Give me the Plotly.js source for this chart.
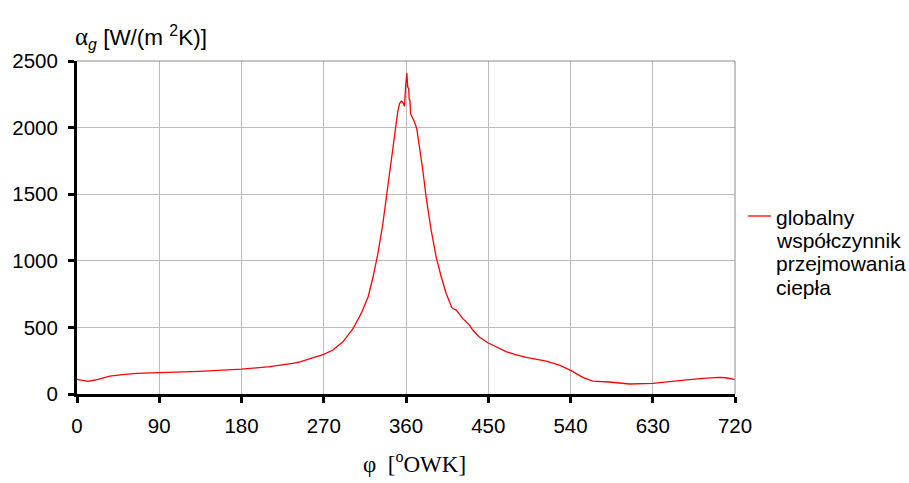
<!DOCTYPE html>
<html>
<head>
<meta charset="utf-8">
<script src="https://cdn.plot.ly/plotly-3.0.1.min.js"></script>
<style>html,body{margin:0;padding:0;background:#fff;}#chart{width:909px;height:483px;}</style>
</head>
<body>
<div id="chart"></div>
<script>
// crank angle [deg OWK]
const phi = [0, 5, 12, 20, 36, 50, 65, 90, 134, 180, 211, 236, 244, 270, 280, 291, 302, 311, 318.6, 324, 329.3, 334.7, 339, 343.8, 348.5, 351, 353, 354.8, 356.5, 358.4, 359.5, 360.9, 361.9, 363, 363.6, 364.3, 365, 367, 369.3, 371.8, 374.8, 378.4, 382, 387.5, 393, 398.5, 404, 408.3, 410, 412, 415, 422, 429.5, 433, 440, 449.5, 462, 469.6, 480, 491.5, 513.4, 528, 540.7, 553.4, 564.3, 582.6, 604.5, 630, 659, 684.7, 703, 710, 719, 720];
// global heat transfer coefficient [W/(m2K)]
const alphaG = [110, 105, 95, 105, 135, 145, 155, 160, 170, 187, 205, 230, 242, 297, 330, 392, 490, 605, 730, 880, 1055, 1280, 1505, 1780, 2030, 2120, 2180, 2198, 2190, 2160, 2305, 2410, 2305, 2290, 2205, 2210, 2105, 2080, 2042, 1992, 1855, 1680, 1480, 1230, 1030, 880, 755, 680, 650, 640, 630, 568, 517, 480, 430, 385, 343, 318, 295, 275, 247, 217, 175, 125, 97, 90, 75, 80, 100, 118, 125, 122, 110, 110];
const xTicks = [0, 90, 180, 270, 360, 450, 540, 630, 720];
const yTicks = [0, 500, 1000, 1500, 2000, 2500];
const legendLines = ['globalny', 'współczynnik', 'przejmowania', 'ciepła'];

const trace = {
  x: phi, y: alphaG, type: 'scatter', mode: 'lines',
  line: {color: '#ff0000', width: 1.3},
  name: legendLines.join(' '),
  showlegend: false
};

const L = 77, R = 735, T = 61, B = 394;
const px2x = p => (p - L) / (R - L);
const py2y = p => (B - p) / (B - T);

const annotations = [
  {xref: 'paper', yref: 'paper', x: px2x(73), y: py2y(37), xanchor: 'left', yanchor: 'middle', showarrow: false,
   text: '<span style="font-family:Liberation Serif;font-size:25px">α</span><sub><i>g</i></sub> [W/(m <sup>2</sup>K)]',
   font: {family: 'Liberation Sans', size: 22.5, color: '#000'}},
  {xref: 'paper', yref: 'paper', x: px2x(414), y: py2y(462), xanchor: 'center', yanchor: 'middle', showarrow: false,
   text: 'φ\u00a0\u00a0[<sup>o</sup>OWK]',
   font: {family: 'Liberation Serif', size: 23, color: '#000'}}
];
const baselines = [224.3, 247.7, 271, 294.3];
legendLines.forEach((t, i) => {
  annotations.push({xref: 'paper', yref: 'paper', x: px2x(775), y: py2y(baselines[i] - 7.3), xanchor: 'left', yanchor: 'middle',
    showarrow: false, borderpad: 0, text: t, font: {family: 'Liberation Sans', size: 21, color: '#000'}});
});

const axisCommon = {
  showgrid: true, gridcolor: '#bcbcbc', gridwidth: 1,
  showline: true, linecolor: '#000', linewidth: 3,
  ticks: 'outside', ticklen: 6, tickwidth: 3, tickcolor: '#000',
  tickfont: {family: 'Liberation Sans', size: 20.5, color: '#000'},
  zeroline: false, fixedrange: true
};

const layout = {
  width: 909, height: 483,
  margin: {l: L, r: 909 - R, t: T, b: 483 - B},
  paper_bgcolor: '#fff', plot_bgcolor: '#fff',
  showlegend: false,
  xaxis: Object.assign({}, axisCommon, {range: [0, 720], tickmode: 'array', tickvals: xTicks, ticktext: xTicks.map(String), ticklabelstandoff: 5}),
  yaxis: Object.assign({}, axisCommon, {range: [0, 2500], tickmode: 'array', tickvals: yTicks, ticktext: yTicks.map(String), ticklabelstandoff: 6}),
  shapes: [
    {type: 'line', xref: 'paper', yref: 'paper', x0: 0, x1: 1, y0: 1, y1: 1, line: {color: '#8c8c8c', width: 1}},
    {type: 'line', xref: 'paper', yref: 'paper', x0: 1, x1: 1, y0: 0, y1: 1, line: {color: '#8c8c8c', width: 1}},
    {type: 'line', xref: 'paper', yref: 'paper', x0: px2x(748), x1: px2x(771), y0: py2y(216), y1: py2y(216),
     line: {color: '#ff0000', width: 1.3}}
  ],
  annotations: annotations
};

Plotly.newPlot('chart', [trace], layout, {displayModeBar: false, staticPlot: true});
</script>
</body>
</html>
